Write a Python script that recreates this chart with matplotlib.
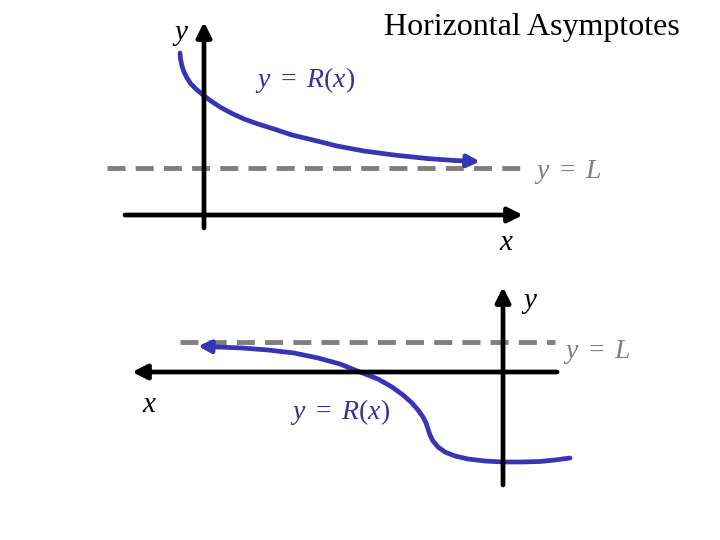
import matplotlib.pyplot as plt

plt.rcParams['mathtext.fontset'] = 'custom'
plt.rcParams['mathtext.rm'] = 'Liberation Serif'
plt.rcParams['mathtext.it'] = 'Liberation Serif:italic'

# top panel: curve falling towards y = L (pixel-like coordinates, y down)
top_curve_x = [180, 180.5, 182, 184, 187, 191, 196, 203, 211, 220, 231, 244, 258, 274, 292, 313, 337, 364, 394, 427, 455, 480]
top_curve_y = [53, 59, 66, 72, 78, 84, 89, 95, 101, 107, 113, 119, 124, 129, 135, 140, 146, 151, 155, 158.5, 160.5, 161.5]
top_L = 168

# bottom panel: curve going left towards y = L
bot_curve_x = [570, 555, 540, 522, 503, 485, 468, 455, 445, 438, 433, 430, 428, 426, 423, 418, 412, 403, 392, 378, 360, 340, 318, 294, 268, 242, 218, 198]
bot_curve_y = [458, 460, 461.5, 462, 462, 461, 459, 456, 452, 447, 441, 435, 429, 423, 417, 410, 403, 395, 387, 379, 372, 364, 358, 353, 350, 348, 347, 346]
bot_L = 342

blue = '#3535B5'
grey = '#7F7F7F'
text_blue = '#333399'

fig = plt.figure(figsize=(7.2, 5.4), dpi=100)
ax = fig.add_axes([0, 0, 1, 1])
ax.set_xlim(0, 720)
ax.set_ylim(540, 0)
ax.axis('off')

def arrow(x0, y0, x1, y1, color='black', lw=3.4, ms=22):
    ax.annotate('', xy=(x1, y1), xytext=(x0, y0),
                arrowprops=dict(arrowstyle='-|>', color=color, lw=lw,
                                mutation_scale=ms, shrinkA=0, shrinkB=0))

# ---- top graph
ax.plot([107, 520], [top_L, top_L], color=grey, lw=3.5, dashes=(3.7, 2.1))
arrow(204, 228, 204, 22)
arrow(125, 215, 523, 215)
ax.plot(top_curve_x[:-1], top_curve_y[:-1], color=blue, lw=3.4, solid_capstyle='round')
arrow(top_curve_x[-2], top_curve_y[-2], top_curve_x[-1], top_curve_y[-1], color=blue, lw=3.4, ms=18)

# ---- bottom graph
ax.plot([180, 555], [bot_L, bot_L], color=grey, lw=3.5, dashes=(3.7, 2.1))
arrow(503, 485, 503, 287)
arrow(557, 372, 132, 372)
ax.plot(bot_curve_x[:-1], bot_curve_y[:-1], color=blue, lw=3.4, solid_capstyle='round')
arrow(bot_curve_x[-2], bot_curve_y[-2], bot_curve_x[-1], bot_curve_y[-1], color=blue, lw=3.4, ms=18)

serif = 'Liberation Serif'
ax.text(532, 28, 'Horizontal Asymptotes', family=serif, fontsize=23, ha='center', va='center')
ax.text(181, 34, '$y$', fontsize=21, ha='center', va='center')
ax.text(507, 242, '$x$', fontsize=21, ha='center', va='center')
ax.text(305, 80, r'$y\ =\ R(x)$', fontsize=20, ha='center', va='center', color=text_blue)
ax.text(568, 172, r'$y\ =\ L$', fontsize=20, ha='center', va='center', color=grey)

ax.text(530, 302, '$y$', fontsize=21, ha='center', va='center')
ax.text(150, 404, '$x$', fontsize=21, ha='center', va='center')
ax.text(340, 412, r'$y\ =\ R(x)$', fontsize=20, ha='center', va='center', color=text_blue)
ax.text(597, 352, r'$y\ =\ L$', fontsize=20, ha='center', va='center', color=grey)

fig.savefig('out.png', dpi=100)
